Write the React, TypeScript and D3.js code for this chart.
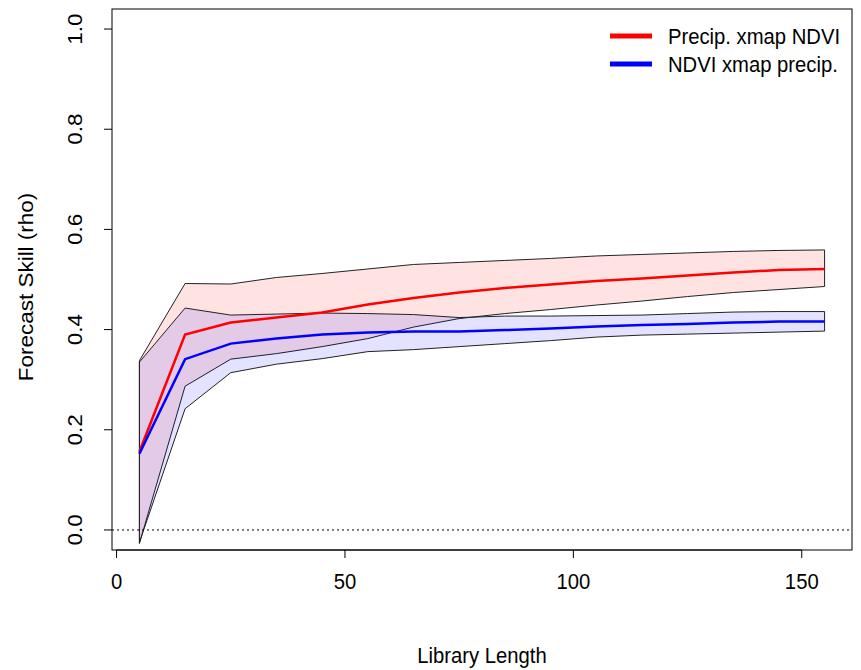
import React from "react";
import * as d3 from "d3";

const libLen = [5, 15, 25, 35, 45, 55, 65, 75, 85, 95, 105, 115, 125, 135, 145, 155];
const redMean = [0.156, 0.39, 0.414, 0.424, 0.434, 0.45, 0.463, 0.474, 0.483, 0.49, 0.497, 0.502, 0.508, 0.514, 0.519, 0.521];
const redUpper = [0.338, 0.492, 0.491, 0.504, 0.512, 0.521, 0.53, 0.534, 0.538, 0.542, 0.547, 0.55, 0.553, 0.556, 0.558, 0.559];
const redLower = [-0.027, 0.287, 0.341, 0.352, 0.366, 0.382, 0.405, 0.422, 0.432, 0.44, 0.449, 0.457, 0.466, 0.474, 0.48, 0.486];
const blueMean = [0.152, 0.341, 0.372, 0.382, 0.39, 0.394, 0.396, 0.396, 0.399, 0.402, 0.406, 0.409, 0.411, 0.414, 0.416, 0.416];
const blueUpper = [0.335, 0.443, 0.429, 0.431, 0.433, 0.432, 0.43, 0.424, 0.427, 0.427, 0.428, 0.429, 0.432, 0.435, 0.436, 0.436];
const blueLower = [-0.025, 0.242, 0.314, 0.331, 0.342, 0.356, 0.36, 0.366, 0.372, 0.378, 0.385, 0.389, 0.391, 0.393, 0.395, 0.397];

const xTicks = [0, 50, 100, 150];
const yTicks = [0, 0.2, 0.4, 0.6, 0.8, 1.0];
const legendLabels = ["Precip. xmap NDVI", "NDVI xmap precip."];
const legendColors = ["#ff0000", "#0000ff"];

const W = 861;
const H = 670;
const L = 112, R = 852, T = 9, B = 550;
const FONT = "'Liberation Sans', Arial, sans-serif";
const FS = 22.5;
const SQ = 0.9;

export default function App() {
  const x = d3.scaleLinear().domain([-1, 161]).range([L, R]);
  const y = d3.scaleLinear().domain([-0.04, 1.04]).range([B, T]);

  const band = (lo: number[], hi: number[]) => {
    const pts: [number, number][] = [];
    libLen.forEach((v, i) => pts.push([x(v), y(hi[i])]));
    for (let i = libLen.length - 1; i >= 0; i--) pts.push([x(libLen[i]), y(lo[i])]);
    return "M" + pts.map((p) => p.join(",")).join("L") + "Z";
  };
  const line = (vals: number[]) =>
    d3.line<number>().x((_, i) => x(libLen[i])).y((d) => y(d))(vals) || "";

  const HText = ({ tx, ty, anchor, children }: any) => (
    <text
      transform={`translate(${tx},${ty}) scale(${SQ},1)`}
      textAnchor={anchor}
      fontFamily={FONT}
      fontSize={FS}
      fill="#000"
    >
      {children}
    </text>
  );
  const VText = ({ tx, ty, children }: any) => (
    <text
      transform={`translate(${tx},${ty}) rotate(-90) scale(1,${SQ})`}
      textAnchor="middle"
      fontFamily={FONT}
      fontSize={FS}
      fill="#000"
    >
      {children}
    </text>
  );

  return (
    <svg width={W} height={H} style={{ position: "absolute", left: 0, top: 0, background: "#fff" }}>
      <rect x={0} y={0} width={W} height={H} fill="#fff" />
      <path d={band(redLower, redUpper)} fill="rgba(255,0,0,0.11)" stroke="#222" strokeWidth={1} />
      <path d={band(blueLower, blueUpper)} fill="rgba(0,0,255,0.11)" stroke="#222" strokeWidth={1} />
      <path d={line(redMean)} fill="none" stroke="#ff0000" strokeWidth={2.5} />
      <path d={line(blueMean)} fill="none" stroke="#0000ff" strokeWidth={2.5} />
      <line x1={L} x2={R} y1={y(0)} y2={y(0)} stroke="#000" strokeWidth={1} strokeDasharray="2,3" />
      <rect x={L} y={T} width={R - L} height={B - T} fill="none" stroke="#000" strokeWidth={1} />

      {/* x axis */}
      <line x1={x(xTicks[0])} x2={x(xTicks[xTicks.length - 1])} y1={B} y2={B} stroke="#000" />
      {xTicks.map((t) => (
        <g key={"x" + t}>
          <line x1={x(t)} x2={x(t)} y1={B} y2={B + 8} stroke="#000" />
          <HText tx={x(t)} ty={589} anchor="middle">{t}</HText>
        </g>
      ))}
      <HText tx={(L + R) / 2} ty={663} anchor="middle">Library Length</HText>

      {/* y axis */}
      {yTicks.map((t) => (
        <g key={"y" + t}>
          <line x1={L - 8} x2={L} y1={y(t)} y2={y(t)} stroke="#000" />
          <VText tx={82} ty={y(t)}>{t.toFixed(1)}</VText>
        </g>
      ))}
      <VText tx={33} ty={287}>Forecast Skill (rho)</VText>

      {/* legend */}
      {legendLabels.map((lab, i) => (
        <g key={lab}>
          <line x1={610} x2={652} y1={36 + i * 28} y2={36 + i * 28} stroke={legendColors[i]} strokeWidth={5} />
          <HText tx={668} ty={44 + i * 28} anchor="start">{lab}</HText>
        </g>
      ))}
    </svg>
  );
}
